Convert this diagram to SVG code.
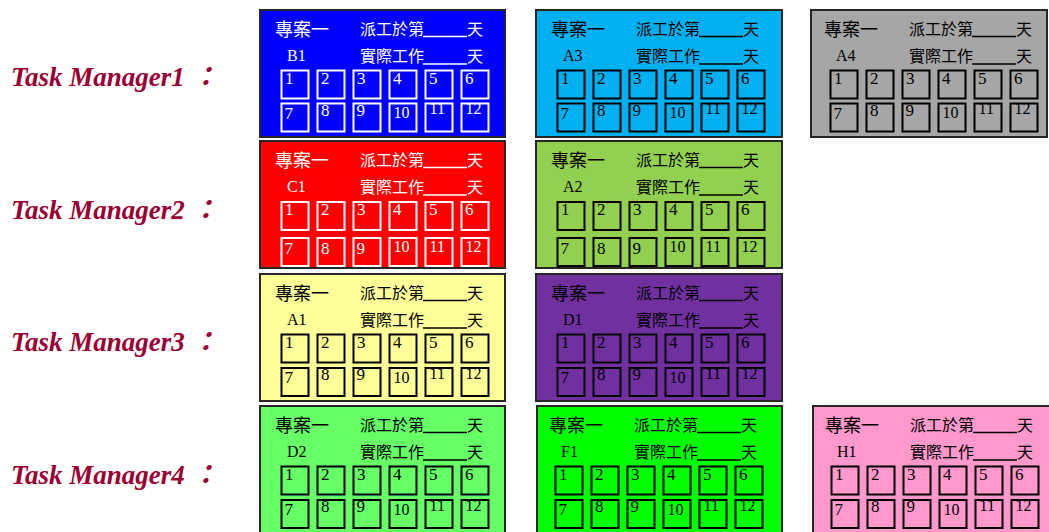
<svg xmlns="http://www.w3.org/2000/svg" width="1049" height="532" viewBox="0 0 1049 532">
<style>
.bg{fill:#fff}
.card{stroke:#262626;stroke-width:2}
.lbl{font-family:"Liberation Serif","Noto Sans CJK TC",serif;font-weight:bold;font-style:italic;font-size:27px;fill:#990033}
.cj{font-family:"Noto Sans CJK TC",sans-serif}
.t1{font-size:18px}
.t2{font-size:16px}
.nm{font-family:"Liberation Serif",serif;font-size:16px}
.d{font-family:"Liberation Serif",serif;font-size:17px}
.ds{font-family:"Liberation Serif",serif;font-size:16px}
.w text{fill:#fff}
.w rect.b,.w line{stroke:#fff}
.k text{fill:#000}
.k rect.b,.k line{stroke:#000}
rect.b{fill:none;stroke-width:2}
line{stroke-width:1.5}
</style>
<rect class="bg" x="0" y="0" width="1049" height="532"/>

<g id="labels">
<text class="lbl" x="11" y="86">Task Manager1 ：</text>
<text class="lbl" x="11" y="219">Task Manager2 ：</text>
<text class="lbl" x="11" y="351">Task Manager3 ：</text>
<text class="lbl" x="11" y="484">Task Manager4 ：</text>
</g>

<g id="card-B1">
<rect class="card" x="260" y="10" width="245" height="127" fill="#0000FF"/>
<g class="w" transform="translate(260,10)">
<text class="cj t1" x="15" y="26">專案一</text>
<text class="cj t2" x="100" y="25">派工於第</text>
<line x1="163" y1="26.5" x2="207" y2="26.5"/>
<text class="cj t2" x="207" y="25">天</text>
<text class="nm" x="27" y="51">B1</text>
<text class="cj t2" x="100" y="52">實際工作</text>
<line x1="163" y1="54" x2="207" y2="54"/>
<text class="cj t2" x="207" y="52">天</text>
<rect class="b" x="21.5" y="60.5" width="27" height="28"/><text class="d" x="25" y="73.5">1</text>
<rect class="b" x="57.5" y="60.5" width="27" height="28"/><text class="d" x="61" y="73.5">2</text>
<rect class="b" x="93.5" y="60.5" width="27" height="28"/><text class="d" x="97" y="73.5">3</text>
<rect class="b" x="129.5" y="60.5" width="27" height="28"/><text class="d" x="133" y="73.5">4</text>
<rect class="b" x="165.5" y="60.5" width="27" height="28"/><text class="d" x="169" y="73.5">5</text>
<rect class="b" x="201.5" y="60.5" width="27" height="28"/><text class="d" x="205" y="73.5">6</text>
<rect class="b" x="21.5" y="93.5" width="27" height="28"/><text class="d" x="24.5" y="108.5">7</text>
<rect class="b" x="57.5" y="93.5" width="27" height="28"/><text class="d" x="61" y="105.5">8</text>
<rect class="b" x="93.5" y="93.5" width="27" height="28"/><text class="d" x="96.5" y="105.5">9</text>
<rect class="b" x="129.5" y="93.5" width="27" height="28"/><text class="ds" x="133.5" y="108">10</text>
<rect class="b" x="165.5" y="93.5" width="27" height="28"/><text class="ds" x="169.5" y="104">11</text>
<rect class="b" x="201.5" y="93.5" width="27" height="28"/><text class="ds" x="205.5" y="104">12</text>
</g>
</g>

<g id="card-A3">
<rect class="card" x="536" y="10" width="246" height="127" fill="#00B0F0"/>
<g class="k" transform="translate(536,10)">
<text class="cj t1" x="15" y="26">專案一</text>
<text class="cj t2" x="100" y="25">派工於第</text>
<line x1="163" y1="26.5" x2="207" y2="26.5"/>
<text class="cj t2" x="207" y="25">天</text>
<text class="nm" x="27" y="51">A3</text>
<text class="cj t2" x="100" y="52">實際工作</text>
<line x1="163" y1="54" x2="207" y2="54"/>
<text class="cj t2" x="207" y="52">天</text>
<rect class="b" x="21.5" y="60.5" width="27" height="28"/><text class="d" x="25" y="73.5">1</text>
<rect class="b" x="57.5" y="60.5" width="27" height="28"/><text class="d" x="61" y="73.5">2</text>
<rect class="b" x="93.5" y="60.5" width="27" height="28"/><text class="d" x="97" y="73.5">3</text>
<rect class="b" x="129.5" y="60.5" width="27" height="28"/><text class="d" x="133" y="73.5">4</text>
<rect class="b" x="165.5" y="60.5" width="27" height="28"/><text class="d" x="169" y="73.5">5</text>
<rect class="b" x="201.5" y="60.5" width="27" height="28"/><text class="d" x="205" y="73.5">6</text>
<rect class="b" x="21.5" y="93.5" width="27" height="28"/><text class="d" x="24.5" y="108.5">7</text>
<rect class="b" x="57.5" y="93.5" width="27" height="28"/><text class="d" x="61" y="105.5">8</text>
<rect class="b" x="93.5" y="93.5" width="27" height="28"/><text class="d" x="96.5" y="105.5">9</text>
<rect class="b" x="129.5" y="93.5" width="27" height="28"/><text class="ds" x="133.5" y="108">10</text>
<rect class="b" x="165.5" y="93.5" width="27" height="28"/><text class="ds" x="169.5" y="104">11</text>
<rect class="b" x="201.5" y="93.5" width="27" height="28"/><text class="ds" x="205.5" y="104">12</text>
</g>
</g>

<g id="card-A4">
<rect class="card" x="811" y="10" width="236" height="127" fill="#A6A6A6"/>
<g class="k" transform="translate(809,10)">
<text class="cj t1" x="15" y="26">專案一</text>
<text class="cj t2" x="100" y="25">派工於第</text>
<line x1="163" y1="26.5" x2="207" y2="26.5"/>
<text class="cj t2" x="207" y="25">天</text>
<text class="nm" x="27" y="51">A4</text>
<text class="cj t2" x="100" y="52">實際工作</text>
<line x1="163" y1="54" x2="207" y2="54"/>
<text class="cj t2" x="207" y="52">天</text>
<rect class="b" x="21.5" y="60.5" width="27" height="28"/><text class="d" x="25" y="73.5">1</text>
<rect class="b" x="57.5" y="60.5" width="27" height="28"/><text class="d" x="61" y="73.5">2</text>
<rect class="b" x="93.5" y="60.5" width="27" height="28"/><text class="d" x="97" y="73.5">3</text>
<rect class="b" x="129.5" y="60.5" width="27" height="28"/><text class="d" x="133" y="73.5">4</text>
<rect class="b" x="165.5" y="60.5" width="27" height="28"/><text class="d" x="169" y="73.5">5</text>
<rect class="b" x="201.5" y="60.5" width="27" height="28"/><text class="d" x="205" y="73.5">6</text>
<rect class="b" x="21.5" y="93.5" width="27" height="28"/><text class="d" x="24.5" y="108.5">7</text>
<rect class="b" x="57.5" y="93.5" width="27" height="28"/><text class="d" x="61" y="105.5">8</text>
<rect class="b" x="93.5" y="93.5" width="27" height="28"/><text class="d" x="96.5" y="105.5">9</text>
<rect class="b" x="129.5" y="93.5" width="27" height="28"/><text class="ds" x="133.5" y="108">10</text>
<rect class="b" x="165.5" y="93.5" width="27" height="28"/><text class="ds" x="169.5" y="104">11</text>
<rect class="b" x="201.5" y="93.5" width="27" height="28"/><text class="ds" x="205.5" y="104">12</text>
</g>
</g>

<g id="card-C1">
<rect class="card" x="260" y="141" width="245" height="127" fill="#FF0000"/>
<g class="w" transform="translate(260,141)">
<text class="cj t1" x="15" y="26">專案一</text>
<text class="cj t2" x="100" y="25">派工於第</text>
<line x1="163" y1="26.5" x2="207" y2="26.5"/>
<text class="cj t2" x="207" y="25">天</text>
<text class="nm" x="27" y="51">C1</text>
<text class="cj t2" x="100" y="52">實際工作</text>
<line x1="163" y1="54" x2="207" y2="54"/>
<text class="cj t2" x="207" y="52">天</text>
<rect class="b" x="21.5" y="61" width="27" height="28"/><text class="d" x="25" y="74">1</text>
<rect class="b" x="57.5" y="61" width="27" height="28"/><text class="d" x="61" y="74">2</text>
<rect class="b" x="93.5" y="61" width="27" height="28"/><text class="d" x="97" y="74">3</text>
<rect class="b" x="129.5" y="61" width="27" height="28"/><text class="d" x="133" y="74">4</text>
<rect class="b" x="165.5" y="61" width="27" height="28"/><text class="d" x="169" y="74">5</text>
<rect class="b" x="201.5" y="61" width="27" height="28"/><text class="d" x="205" y="74">6</text>
<rect class="b" x="21.5" y="97" width="27" height="28"/><text class="d" x="24.5" y="112.5">7</text>
<rect class="b" x="57.5" y="97" width="27" height="28"/><text class="d" x="61" y="112.5">8</text>
<rect class="b" x="93.5" y="97" width="27" height="28"/><text class="d" x="96.5" y="112.5">9</text>
<rect class="b" x="129.5" y="97" width="27" height="28"/><text class="ds" x="133.5" y="110.5">10</text>
<rect class="b" x="165.5" y="97" width="27" height="28"/><text class="ds" x="169.5" y="110.5">11</text>
<rect class="b" x="201.5" y="97" width="27" height="28"/><text class="ds" x="205.5" y="110.5">12</text>
</g>
</g>

<g id="card-A2">
<rect class="card" x="536" y="141" width="246" height="127" fill="#92D050"/>
<g class="k" transform="translate(536,141)">
<text class="cj t1" x="15" y="26">專案一</text>
<text class="cj t2" x="100" y="25">派工於第</text>
<line x1="163" y1="26.5" x2="207" y2="26.5"/>
<text class="cj t2" x="207" y="25">天</text>
<text class="nm" x="27" y="51">A2</text>
<text class="cj t2" x="100" y="52">實際工作</text>
<line x1="163" y1="54" x2="207" y2="54"/>
<text class="cj t2" x="207" y="52">天</text>
<rect class="b" x="21.5" y="61" width="27" height="28"/><text class="d" x="25" y="74">1</text>
<rect class="b" x="57.5" y="61" width="27" height="28"/><text class="d" x="61" y="74">2</text>
<rect class="b" x="93.5" y="61" width="27" height="28"/><text class="d" x="97" y="74">3</text>
<rect class="b" x="129.5" y="61" width="27" height="28"/><text class="d" x="133" y="74">4</text>
<rect class="b" x="165.5" y="61" width="27" height="28"/><text class="d" x="169" y="74">5</text>
<rect class="b" x="201.5" y="61" width="27" height="28"/><text class="d" x="205" y="74">6</text>
<rect class="b" x="21.5" y="97" width="27" height="28"/><text class="d" x="24.5" y="112.5">7</text>
<rect class="b" x="57.5" y="97" width="27" height="28"/><text class="d" x="61" y="112.5">8</text>
<rect class="b" x="93.5" y="97" width="27" height="28"/><text class="d" x="96.5" y="112.5">9</text>
<rect class="b" x="129.5" y="97" width="27" height="28"/><text class="ds" x="133.5" y="110.5">10</text>
<rect class="b" x="165.5" y="97" width="27" height="28"/><text class="ds" x="169.5" y="110.5">11</text>
<rect class="b" x="201.5" y="97" width="27" height="28"/><text class="ds" x="205.5" y="110.5">12</text>
</g>
</g>

<g id="card-A1">
<rect class="card" x="260" y="274" width="245" height="127" fill="#FFFF99"/>
<g class="k" transform="translate(260,274)">
<text class="cj t1" x="15" y="26">專案一</text>
<text class="cj t2" x="100" y="25">派工於第</text>
<line x1="163" y1="26.5" x2="207" y2="26.5"/>
<text class="cj t2" x="207" y="25">天</text>
<text class="nm" x="27" y="51">A1</text>
<text class="cj t2" x="100" y="52">實際工作</text>
<line x1="163" y1="54" x2="207" y2="54"/>
<text class="cj t2" x="207" y="52">天</text>
<rect class="b" x="21.5" y="60.5" width="27" height="28"/><text class="d" x="25" y="73.5">1</text>
<rect class="b" x="57.5" y="60.5" width="27" height="28"/><text class="d" x="61" y="73.5">2</text>
<rect class="b" x="93.5" y="60.5" width="27" height="28"/><text class="d" x="97" y="73.5">3</text>
<rect class="b" x="129.5" y="60.5" width="27" height="28"/><text class="d" x="133" y="73.5">4</text>
<rect class="b" x="165.5" y="60.5" width="27" height="28"/><text class="d" x="169" y="73.5">5</text>
<rect class="b" x="201.5" y="60.5" width="27" height="28"/><text class="d" x="205" y="73.5">6</text>
<rect class="b" x="21.5" y="94" width="27" height="28"/><text class="d" x="24.5" y="109">7</text>
<rect class="b" x="57.5" y="94" width="27" height="28"/><text class="d" x="61" y="106">8</text>
<rect class="b" x="93.5" y="94" width="27" height="28"/><text class="d" x="96.5" y="106">9</text>
<rect class="b" x="129.5" y="94" width="27" height="28"/><text class="ds" x="133.5" y="108.5">10</text>
<rect class="b" x="165.5" y="94" width="27" height="28"/><text class="ds" x="169.5" y="104.5">11</text>
<rect class="b" x="201.5" y="94" width="27" height="28"/><text class="ds" x="205.5" y="104.5">12</text>
</g>
</g>

<g id="card-D1">
<rect class="card" x="536" y="274" width="246" height="127" fill="#7030A0"/>
<g class="k" transform="translate(536,274)">
<text class="cj t1" x="15" y="26">專案一</text>
<text class="cj t2" x="100" y="25">派工於第</text>
<line x1="163" y1="26.5" x2="207" y2="26.5"/>
<text class="cj t2" x="207" y="25">天</text>
<text class="nm" x="27" y="51">D1</text>
<text class="cj t2" x="100" y="52">實際工作</text>
<line x1="163" y1="54" x2="207" y2="54"/>
<text class="cj t2" x="207" y="52">天</text>
<rect class="b" x="21.5" y="60.5" width="27" height="28"/><text class="d" x="25" y="73.5">1</text>
<rect class="b" x="57.5" y="60.5" width="27" height="28"/><text class="d" x="61" y="73.5">2</text>
<rect class="b" x="93.5" y="60.5" width="27" height="28"/><text class="d" x="97" y="73.5">3</text>
<rect class="b" x="129.5" y="60.5" width="27" height="28"/><text class="d" x="133" y="73.5">4</text>
<rect class="b" x="165.5" y="60.5" width="27" height="28"/><text class="d" x="169" y="73.5">5</text>
<rect class="b" x="201.5" y="60.5" width="27" height="28"/><text class="d" x="205" y="73.5">6</text>
<rect class="b" x="21.5" y="94" width="27" height="28"/><text class="d" x="24.5" y="109">7</text>
<rect class="b" x="57.5" y="94" width="27" height="28"/><text class="d" x="61" y="106">8</text>
<rect class="b" x="93.5" y="94" width="27" height="28"/><text class="d" x="96.5" y="106">9</text>
<rect class="b" x="129.5" y="94" width="27" height="28"/><text class="ds" x="133.5" y="108.5">10</text>
<rect class="b" x="165.5" y="94" width="27" height="28"/><text class="ds" x="169.5" y="104.5">11</text>
<rect class="b" x="201.5" y="94" width="27" height="28"/><text class="ds" x="205.5" y="104.5">12</text>
</g>
</g>

<g id="card-D2">
<rect class="card" x="260" y="406" width="245" height="130" fill="#66FF66"/>
<g class="k" transform="translate(260,406)">
<text class="cj t1" x="15" y="26">專案一</text>
<text class="cj t2" x="100" y="25">派工於第</text>
<line x1="163" y1="26.5" x2="207" y2="26.5"/>
<text class="cj t2" x="207" y="25">天</text>
<text class="nm" x="27" y="51">D2</text>
<text class="cj t2" x="100" y="52">實際工作</text>
<line x1="163" y1="54" x2="207" y2="54"/>
<text class="cj t2" x="207" y="52">天</text>
<rect class="b" x="21.5" y="60.5" width="27" height="28"/><text class="d" x="25" y="73.5">1</text>
<rect class="b" x="57.5" y="60.5" width="27" height="28"/><text class="d" x="61" y="73.5">2</text>
<rect class="b" x="93.5" y="60.5" width="27" height="28"/><text class="d" x="97" y="73.5">3</text>
<rect class="b" x="129.5" y="60.5" width="27" height="28"/><text class="d" x="133" y="73.5">4</text>
<rect class="b" x="165.5" y="60.5" width="27" height="28"/><text class="d" x="169" y="73.5">5</text>
<rect class="b" x="201.5" y="60.5" width="27" height="28"/><text class="d" x="205" y="73.5">6</text>
<rect class="b" x="21.5" y="94" width="27" height="28"/><text class="d" x="24.5" y="109">7</text>
<rect class="b" x="57.5" y="94" width="27" height="28"/><text class="d" x="61" y="106">8</text>
<rect class="b" x="93.5" y="94" width="27" height="28"/><text class="d" x="96.5" y="106">9</text>
<rect class="b" x="129.5" y="94" width="27" height="28"/><text class="ds" x="133.5" y="108.5">10</text>
<rect class="b" x="165.5" y="94" width="27" height="28"/><text class="ds" x="169.5" y="104.5">11</text>
<rect class="b" x="201.5" y="94" width="27" height="28"/><text class="ds" x="205.5" y="104.5">12</text>
</g>
</g>

<g id="card-F1">
<rect class="card" x="537" y="406" width="245" height="130" fill="#00FF00"/>
<g class="k" transform="translate(534,406)">
<text class="cj t1" x="15" y="26">專案一</text>
<text class="cj t2" x="100" y="25">派工於第</text>
<line x1="163" y1="26.5" x2="207" y2="26.5"/>
<text class="cj t2" x="207" y="25">天</text>
<text class="nm" x="27" y="51">F1</text>
<text class="cj t2" x="100" y="52">實際工作</text>
<line x1="163" y1="54" x2="207" y2="54"/>
<text class="cj t2" x="207" y="52">天</text>
<rect class="b" x="21.5" y="60.5" width="27" height="28"/><text class="d" x="25" y="73.5">1</text>
<rect class="b" x="57.5" y="60.5" width="27" height="28"/><text class="d" x="61" y="73.5">2</text>
<rect class="b" x="93.5" y="60.5" width="27" height="28"/><text class="d" x="97" y="73.5">3</text>
<rect class="b" x="129.5" y="60.5" width="27" height="28"/><text class="d" x="133" y="73.5">4</text>
<rect class="b" x="165.5" y="60.5" width="27" height="28"/><text class="d" x="169" y="73.5">5</text>
<rect class="b" x="201.5" y="60.5" width="27" height="28"/><text class="d" x="205" y="73.5">6</text>
<rect class="b" x="21.5" y="94" width="27" height="28"/><text class="d" x="24.5" y="109">7</text>
<rect class="b" x="57.5" y="94" width="27" height="28"/><text class="d" x="61" y="106">8</text>
<rect class="b" x="93.5" y="94" width="27" height="28"/><text class="d" x="96.5" y="106">9</text>
<rect class="b" x="129.5" y="94" width="27" height="28"/><text class="ds" x="133.5" y="108.5">10</text>
<rect class="b" x="165.5" y="94" width="27" height="28"/><text class="ds" x="169.5" y="104.5">11</text>
<rect class="b" x="201.5" y="94" width="27" height="28"/><text class="ds" x="205.5" y="104.5">12</text>
</g>
</g>

<g id="card-H1">
<rect class="card" x="813" y="406" width="240" height="130" fill="#FF99CC"/>
<g class="k" transform="translate(810,406)">
<text class="cj t1" x="15" y="26">專案一</text>
<text class="cj t2" x="100" y="25">派工於第</text>
<line x1="163" y1="26.5" x2="207" y2="26.5"/>
<text class="cj t2" x="207" y="25">天</text>
<text class="nm" x="27" y="51">H1</text>
<text class="cj t2" x="100" y="52">實際工作</text>
<line x1="163" y1="54" x2="207" y2="54"/>
<text class="cj t2" x="207" y="52">天</text>
<rect class="b" x="21.5" y="60.5" width="27" height="28"/><text class="d" x="25" y="73.5">1</text>
<rect class="b" x="57.5" y="60.5" width="27" height="28"/><text class="d" x="61" y="73.5">2</text>
<rect class="b" x="93.5" y="60.5" width="27" height="28"/><text class="d" x="97" y="73.5">3</text>
<rect class="b" x="129.5" y="60.5" width="27" height="28"/><text class="d" x="133" y="73.5">4</text>
<rect class="b" x="165.5" y="60.5" width="27" height="28"/><text class="d" x="169" y="73.5">5</text>
<rect class="b" x="201.5" y="60.5" width="27" height="28"/><text class="d" x="205" y="73.5">6</text>
<rect class="b" x="21.5" y="94" width="27" height="28"/><text class="d" x="24.5" y="109">7</text>
<rect class="b" x="57.5" y="94" width="27" height="28"/><text class="d" x="61" y="106">8</text>
<rect class="b" x="93.5" y="94" width="27" height="28"/><text class="d" x="96.5" y="106">9</text>
<rect class="b" x="129.5" y="94" width="27" height="28"/><text class="ds" x="133.5" y="108.5">10</text>
<rect class="b" x="165.5" y="94" width="27" height="28"/><text class="ds" x="169.5" y="104.5">11</text>
<rect class="b" x="201.5" y="94" width="27" height="28"/><text class="ds" x="205.5" y="104.5">12</text>
</g>
</g>
</svg>
